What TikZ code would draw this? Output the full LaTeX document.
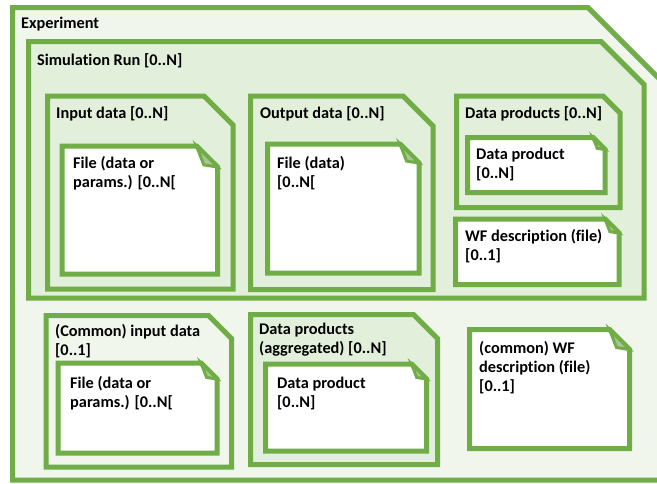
\documentclass[tikz,border=0pt]{standalone}
\usepackage{fontspec}
\setmainfont{Carlito}[Ligatures=NoCommon]
\usepackage{tikz}

\definecolor{leafgreen}{HTML}{70AD47}
\definecolor{palegreen}{HTML}{F0F6EC}
\definecolor{midgreen}{HTML}{E2EFDA}
\definecolor{foldgray}{HTML}{A9C497}

% box with a cut top-right corner: [style]{x1}{y1}{x2}{y2}{cut}
\newcommand{\chambox}[6][]{%
  \draw[#1] (#2,#3) -- ({#4-#6},#3) -- (#4,{#3+#6}) -- (#4,#5) -- (#2,#5) -- cycle;}
% same, with a folded corner
\newcommand{\docshape}[6][]{%
  \chambox[#1]{#2}{#3}{#4}{#5}{#6}
  \draw[fold] ({#4-#6},#3) -- ({#4-0.65*#6},{#3+0.9*#6}) -- (#4,{#3+#6}) -- cycle;}

\begin{document}
\begin{tikzpicture}[x=1pt, y=-1pt, line join=miter,
    outer/.style={draw=leafgreen, line width=5pt, fill=palegreen},
    inner/.style={draw=leafgreen, line width=5pt, fill=midgreen},
    doc/.style={draw=leafgreen, line width=5pt, fill=white},
    fold/.style={draw=leafgreen, line width=3pt, fill=foldgray},
    lbl/.style={anchor=base west, inner sep=0pt, align=left,
                font={\fontsize{16.3}{19}\selectfont\bfseries}}]
    \useasboundingbox (0,0) rectangle (657,483);

    % experiment and simulation run
    \chambox[outer]{12.5}{7.5}{663}{480}{75}
    \chambox[inner]{28.5}{41.5}{644}{298}{43}

    % run contents
    \chambox[inner]{47.5}{96}{233}{289}{29}
    \docshape[doc]{62}{146}{217.5}{274}{21}
    \chambox[inner]{250.5}{96}{433}{289.5}{30}
    \docshape[doc]{267.5}{144}{419}{273}{19}
    \chambox[inner]{456.5}{96}{620}{207.5}{17}
    \docshape[doc]{467.5}{137.5}{605}{192.5}{12}
    \docshape[doc]{455.5}{219}{619}{284.5}{14}

    % common part
    \chambox[outer]{46}{315.5}{231.5}{467}{23}
    \docshape[doc]{58}{363}{217}{453}{16}
    \chambox[inner]{250.5}{314.5}{437.5}{464.5}{24}
    \docshape[doc]{265.5}{364}{426.5}{451}{15}
    \docshape[doc]{469.5}{329.5}{629.5}{448.5}{20}

    % labels (base = last line)
    \node[lbl] (experiment) at (21,28) {Experiment};
    \node[lbl] (simrun) at (37,65) {Simulation Run [0..N]};
    \node[lbl] (indata) at (56,118) {Input data [0..N]};
    \node[lbl] (infile) at (73,187) {File (data or\\params.) [0..N[};
    \node[lbl] (outdata) at (260,118) {Output data [0..N]};
    \node[lbl] (outfile) at (277,187) {File (data)\\{}[0..N[};
    \node[lbl] (products) at (465,118) {Data products [0..N]};
    \node[lbl] (product) at (476,178) {Data product\\{}[0..N]};
    \node[lbl] (wf) at (465,260) {WF description (file)\\{}[0..1]};
    \node[lbl] (cominput) at (55,355) {(Common) input data\\{}[0..1]};
    \node[lbl] (comfile) at (70,407) {File (data or\\params.) [0..N[};
    \node[lbl] (aggr) at (259,353) {Data products\\(aggregated) [0..N]};
    \node[lbl] (aggrprod) at (277,407) {Data product\\{}[0..N]};
    \node[lbl] (comwf) at (479,391) {(common) WF\\description (file)\\{}[0..1]};
\end{tikzpicture}
\end{document}
